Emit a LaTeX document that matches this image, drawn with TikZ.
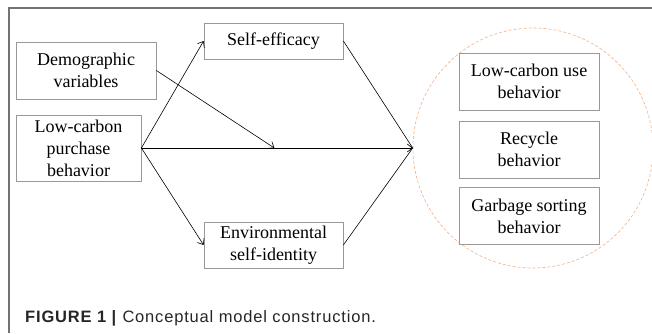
\documentclass[tikz,border=0pt]{standalone}
\usepackage{fontspec}
\setmainfont{Liberation Serif}
\newfontfamily\boxfont{Liberation Serif}
\newfontfamily\capfont[LetterSpace=5]{Liberation Sans}
\usepackage{tikz}
\usetikzlibrary{positioning,calc}
\usetikzlibrary{arrows.meta}
\definecolor{boxgray}{rgb}{0.6,0.6,0.6}
\definecolor{framegray}{rgb}{0.45,0.45,0.45}
\definecolor{peach}{rgb}{0.96,0.68,0.52}

\begin{document}
\begin{tikzpicture}[
  x = 1pt,
  y = 1pt,
  factor/.style = {
    draw = boxgray,
    rectangle,
    line width = 0.8pt,
    fill = white,
    align = center,
    inner sep = 0pt,
    font = \boxfont\fontsize{18}{22}\selectfont,
  },
  outcome/.style = {
    factor,
    minimum width = 140pt,
    minimum height = 57pt,
  },
  link/.style = {
    draw,
    line width = 0.6pt,
  },
  >={Straight Barb[length=5pt,width=8pt]},
]

  \useasboundingbox (0,0) rectangle (652,333);

  % frame of the figure
  \draw[framegray,line width=1.2pt] (9,0) -- (9,325) -- (652,325);

  % predictors
  \node[factor,minimum width=140pt,minimum height=57pt] (demo) at (86,262.5) {Demographic\\variables};
  \node[factor,minimum width=125pt,minimum height=66pt] (lcp) at (78.5,185) {Low-carbon\\purchase\\behavior};

  % mediators
  \node[factor,minimum width=139pt,minimum height=36pt] (self) at (273.5,292) {Self-efficacy};
  \node[factor,minimum width=139pt,minimum height=46pt] (env) at (273.5,88) {Environmental\\self-identity};

  % outcomes
  \node[draw=peach,dashed,dash pattern=on 3pt off 2pt,circle,minimum size=240pt,line width=0.6pt] (group) at (533,185) {};
  \node[outcome] (recycle) at (529,183.5) {Recycle\\behavior};
  \node[outcome] (use) [above=10pt of recycle] {Low-carbon use\\behavior};
  \node[outcome] (garbage) [below=9pt of recycle] {Garbage sorting\\behavior};

  \coordinate (hub) at (group.west);
  \coordinate (mid) at ($(lcp.east)!0.49!(hub)$);

  \path[->,link] (lcp.east) -- (self.west);
  \path[->,link] (lcp.east) -- (env.west);
  \path[->,link] (lcp.east) -- (hub);
  \path[->,link] (demo.east) -- (mid);
  \path[link] (self.east) -- (hub);
  \path[link] (env.east) -- (hub);

  % caption
  \node[anchor=base west,inner sep=0pt,font=\capfont\fontsize{16.5}{19}\selectfont,text=black!85] (caption) at (25,11)
    {\textbf{FIGURE 1 |} Conceptual model construction.};

\end{tikzpicture}
\end{document}
